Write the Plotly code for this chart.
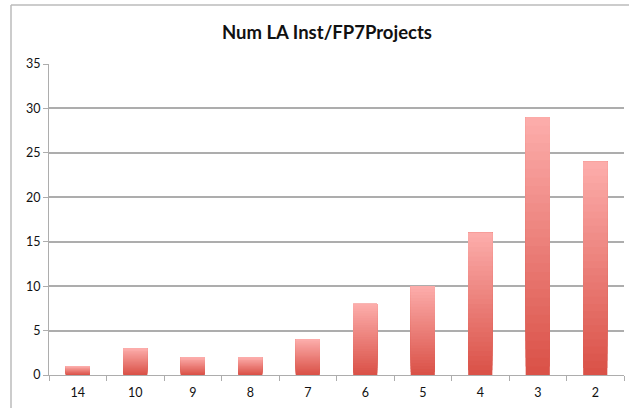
import plotly.graph_objects as go

categories = ["14", "10", "9", "8", "7", "6", "5", "4", "3", "2"]
values = [1, 3, 2, 2, 4, 8, 10, 16, 29, 24]
y_ticks = [0, 5, 10, 15, 20, 25, 30, 35]
title = "Num LA Inst/FP7Projects"

W, H = 629, 408
ml, mr, mt, mb = 49, 5, 64, 33
pw, ph = W - ml - mr, H - mt - mb

top_rgb = (252, 172, 170)
bot_rgb = (218, 82, 72)
N = 30

fig = go.Figure()
for i in range(N):
    t = i / (N - 1)
    c = tuple(round(bot_rgb[k] + (top_rgb[k] - bot_rgb[k]) * t) for k in range(3))
    fig.add_trace(go.Bar(
        x=categories,
        y=[v * (N - i) / N for v in values],
        base=[v * i / N for v in values],
        marker=dict(color=f"rgb{c}", line=dict(width=0)),
        width=0.42,
        hoverinfo="skip",
        showlegend=False,
    ))

grid = "#ADADAD"
fig.update_layout(
    width=W, height=H,
    margin=dict(l=ml, r=mr, t=mt, b=mb),
    barmode="overlay",
    paper_bgcolor="white", plot_bgcolor="white",
    font=dict(family="Lato, Liberation Sans, sans-serif", color="#111", size=12),
    title=dict(text=f"<b>{title}</b>", x=327 / W, xanchor="center",
               y=1 - 33 / H, yanchor="middle",
               font=dict(size=18.5, family="Lato, Liberation Sans, sans-serif", color="#111")),
    xaxis=dict(type="category", showgrid=False, showline=True, linecolor=grid, linewidth=1,
               ticks="outside", tickson="boundaries", ticklen=5, tickcolor=grid,
               tickfont=dict(size=12.5), ticklabelstandoff=6),
    yaxis=dict(range=[0, 35], tickvals=y_ticks, showgrid=True, gridcolor=grid, gridwidth=1.5,
               showline=True, linecolor=grid, linewidth=1, ticks="outside", ticklen=5,
               tickcolor=grid, zeroline=False, tickfont=dict(size=12.5)),
)

bx = (11 - ml) / pw
by = (H - mb - 5) / ph
fig.add_shape(type="line", xref="paper", yref="paper", x0=bx, x1=1.02, y0=by, y1=by,
              line=dict(color="#BBBBBB", width=1.5))
fig.add_shape(type="line", xref="paper", yref="paper", x0=bx, x1=bx, y0=by, y1=-0.2,
              line=dict(color="#BBBBBB", width=1.5))

fig.write_html("out.html", config={"displayModeBar": False},
               post_script="document.body.style.margin='0';document.body.style.overflow='hidden';")
